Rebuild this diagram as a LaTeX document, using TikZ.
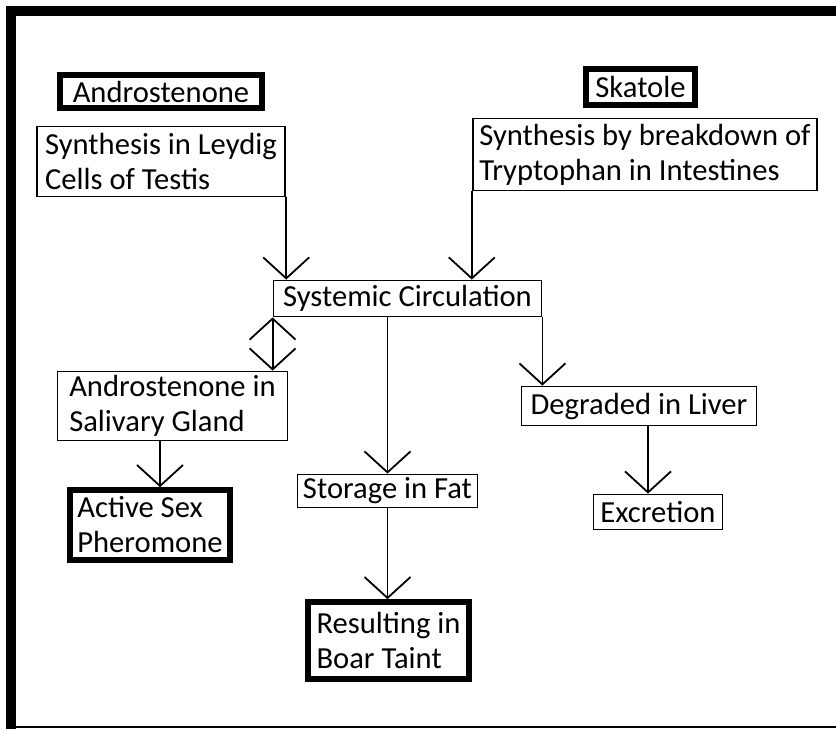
\documentclass[tikz,border=0pt]{standalone}
\usepackage{fontspec}
\setmainfont{Carlito}
\usetikzlibrary{arrows.meta}

\begin{document}
\begin{tikzpicture}[x=0.5pt,y=-0.5pt,>={Straight Barb[length=10.5pt,width=23pt]},font=\fontsize{15.3}{17.5}\selectfont,main node/.style={draw,line width=0.9pt,align=left,inner sep=0pt},title node/.style={draw,line width=2.8pt,align=left,inner sep=0pt}]
    \useasboundingbox (0,0) rectangle (836,729);
    \draw[line width=5pt] (11,729) -- (11,10.5) -- (836,10.5);
    \draw[line width=1pt] (13,726.5) -- (836,726.5);

    \node[title node,minimum width=101pt,minimum height=16.5pt] (andro) at (161,91.5) {Androstenone};
    \node[main node,minimum width=124.3pt,minimum height=35pt] (leydig) [below of=andro,node distance=35pt] {Synthesis in Leydig\\Cells of Testis};
    \node[title node,minimum width=54.5pt,minimum height=18pt] (skatole) at (640.5,87) {Skatole};
    \node[main node,minimum width=172.3pt,minimum height=36pt] (trypto) at (645,154.5) {Synthesis by breakdown of\\Tryptophan in Intestines};
    \node[main node,minimum width=134pt,minimum height=18pt] (circ) at (407.5,298.5) {Systemic Circulation};
    \node[main node,minimum width=115pt,minimum height=34.5pt] (saliva) at (172.5,406) {Androstenone in\\Salivary Gland};
    \node[title node,minimum width=80pt,minimum height=35pt] (pher) at (150,525) {Active Sex\\Pheromone};
    \node[main node,minimum width=90pt,minimum height=16.5pt] (fat) at (387.5,491) {Storage in Fat};
    \node[title node,minimum width=80.5pt,minimum height=38.5pt] (taint) at (388.5,640.5) {Resulting in\\Boar Taint};
    \node[main node,minimum width=117.5pt,minimum height=19.5pt] (liver) [right of=saliva,node distance=233.25pt] {Degraded in Liver};
    \node[main node,minimum width=64.5pt,minimum height=17.5pt] (excr) at (658,512) {Excretion};

    \path[->,line width=0.9pt]
    (leydig.south east) edge (leydig.south east |- circ.north)
    (trypto.south west) edge (trypto.south west |- circ.north)
    (circ.south west) edge[<->] (circ.south west |- saliva.north)
    (fat.north |- circ.south) edge (fat.north)
    (circ.south east) edge (circ.south east |- liver.north)
    ([xshift=5pt]pher.north |- saliva.south) edge ([xshift=5pt]pher.north)
    (fat.south) edge (fat.south |- taint.north)
    ([xshift=-5pt]excr.north |- liver.south) edge ([xshift=-5pt]excr.north);
\end{tikzpicture}
\end{document}
